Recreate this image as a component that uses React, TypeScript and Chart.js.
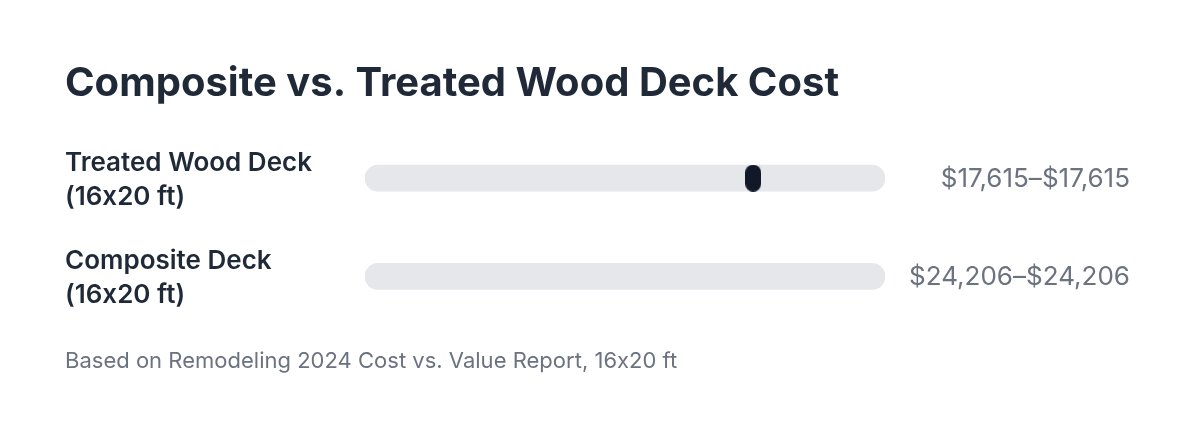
import React, { useEffect, useRef } from "react";
import { Chart, registerables } from "chart.js";

Chart.register(...registerables);

const categories = [["Treated Wood Deck", "(16x20 ft)"], ["Composite Deck", "(16x20 ft)"]];
const lowCosts = [17615, 24206];
const highCosts = [17615, 24206];
const scaleMin = 0;
const scaleMax = 23600;

const money = (v: number) => "$" + v.toLocaleString("en-US");
const rangeLabels = lowCosts.map((lo, i) => `${money(lo)}–${money(highCosts[i])}`);

// little pill used as the marker
const makePill = () => {
  const c = document.createElement("canvas");
  c.width = 16;
  c.height = 27;
  const ctx = c.getContext("2d")!;
  ctx.fillStyle = "#111827";
  ctx.beginPath();
  ctx.roundRect(0, 0, 16, 27, 8);
  ctx.fill();
  return c;
};

// keep Inter from turning "16x20" into "16×20"
const plainText = {
  id: "plainText",
  beforeDraw: (chart: any) => {
    chart.ctx.letterSpacing = "0.01px";
    chart.ctx.textRendering = "optimizeSpeed";
  },
};

const App = () => {
  const chartRef = useRef<HTMLCanvasElement>(null);

  useEffect(() => {
    document.body.style.margin = "0";
    if (!chartRef.current) return;
    const chart = new Chart(chartRef.current, {
      type: "bar",
      data: {
        labels: categories,
        datasets: [
          {
            type: "bar",
            data: categories.map(() => [scaleMin, scaleMax]),
            backgroundColor: "#e5e7eb",
            borderRadius: 13,
            borderSkipped: false,
            barThickness: 26,
            order: 2,
          },
          {
            type: "line",
            indexAxis: "y",
            data: lowCosts,
            showLine: false,
            pointStyle: makePill(),
            clip: { left: 0, right: 0, top: 30, bottom: 30 },
            order: 1,
          } as any,
        ],
      },
      options: {
        indexAxis: "y",
        responsive: false,
        animation: false,
        layout: { padding: { left: 65, right: 70, top: 0, bottom: 0 } },
        plugins: {
          legend: { display: false },
          tooltip: { enabled: false },
          title: {
            display: true,
            text: "Composite vs. Treated Wood Deck Cost",
            align: "start",
            color: "#1f2937",
            font: { family: "Inter", size: 40, weight: 700 },
            padding: { top: 60, bottom: 21 },
          },
          subtitle: {
            display: true,
            position: "bottom",
            text: "Based on Remodeling 2024 Cost vs. Value Report, 16x20 ft",
            align: "start",
            color: "#6b7280",
            font: { family: "Inter", size: 22, weight: 400 },
            padding: { top: 23, bottom: 56 },
          },
        },
        scales: {
          x: {
            display: false,
            min: scaleMin,
            max: scaleMax,
          },
          y: {
            position: "left",
            offset: true,
            grid: { display: false },
            border: { display: false },
            ticks: {
              crossAlign: "far",
              labelOffset: 2,
              color: "#1f2937",
              font: { family: "Inter", size: 26, weight: 600, lineHeight: 1.3 },
            },
            afterFit: (s: any) => {
              s.width = 300;
            },
          },
          y2: {
            type: "category",
            labels: rangeLabels,
            position: "right",
            offset: true,
            grid: { display: false },
            border: { display: false },
            ticks: {
              crossAlign: "far",
              labelOffset: 1,
              color: "#6b7280",
              font: { family: "Inter", size: 26, weight: 400 },
            },
            afterFit: (s: any) => {
              s.width = 245;
            },
          },
        },
      },
      plugins: [plainText],
    });
    return () => chart.destroy();
  }, []);

  return (
    <div style={{ width: 1200, height: 431, background: "#fff" }}>
      <canvas ref={chartRef} width={1200} height={431} />
    </div>
  );
};

export default App;
